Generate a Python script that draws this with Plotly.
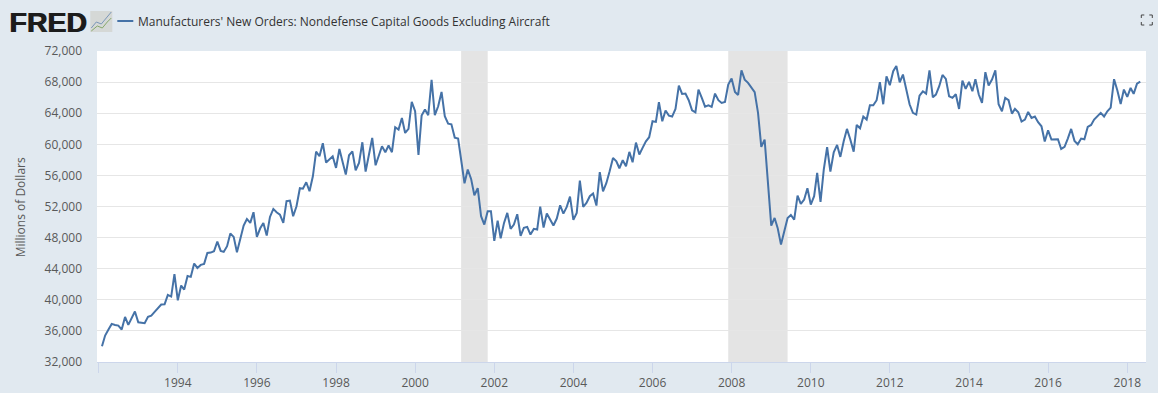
import plotly.graph_objects as go
import pandas as pd

START = "1992-02-01"
SERIES_NAME = "Manufacturers' New Orders: Nondefense Capital Goods Excluding Aircraft"
Y_TITLE = "Millions of Dollars"

v1992 = [34030,35400,36170,36900,36770,36690,36170,37800,36770,37630,38490]
v1993 = [37110,37030,36990,37800,37970,38440,38960,39390,39430,40630,40420,43290]
v1994 = [39940,41830,41320,43070,42950,44660,44100,44490,44620,46030,46070,46250]
v1995 = [47490,46290,46160,46890,48520,48090,46120,47750,49550,50400,49890,51260]
v1996 = [48090,49200,49890,48260,50660,51690,51260,50960,49890,52680,52760,50750]
v1997 = [52030,54350,54300,55120,53960,55890,59060,58460,60140,57650,58040,58460]
v1998 = [56960,59400,57820,56100,58590,59100,56660,57600,60260,56490,58680,60820]
v1999 = [57300,58680,59750,58980,59840,58980,62190,61890,63390,61460,61980,65450]
v2000 = [64250,58640,63690,64470,63740,68280,63740,64890,66740,63610,62660,62580]
v2001 = [60860,60740,58040,54990,56750,55550,53450,54350,50750,49680,51390,51390]
v2002 = [47570,50190,47920,49890,51180,49120,49680,51000,48220,49250,49380,48390]
v2003 = [49120,49030,51990,49290,51090,50320,49550,50450,52160,51090,51950,53280]
v2004 = [50280,51180,55330,51950,52460,53320,53660,52120,56410,53960,55030,56530]
v2005 = [58250,57820,56920,57950,57180,59020,57690,60220,58680,59540,60390,60910]
v2006 = [62970,62880,65410,62970,64340,63690,63570,64550,67550,66480,66520,65670]
v2007 = [64380,64120,67040,65970,64850,65020,64810,66520,65670,65320,65450,67680]
v2008 = [68450,66740,66350,69520,68320,67900,67340,66700,64040,59660,60610,55030]
v2009 = [49550,50530,49250,47100,48820,50530,50920,50320,53400,52330,52890,54350]
v2010 = [52250,53320,56320,52590,56750,59620,56490,58980,59920,58380,60390,61980]
v2011 = [60610,59060,62490,62060,63570,63180,65020,65020,65670,67980,65150,68750]
v2012 = [67600,69400,70080,67980,68970,66820,65150,64040,63820,66270,66820,66520]
v2013 = [69520,66050,66400,67470,68920,68410,66180,65970,66440,64550,68200,67120]
v2014 = [68020,66820,68370,66400,65320,69270,67550,68320,69520,65150,64250,65970]
v2015 = [65670,63950,64550,64120,62920,63180,64170,63390,63570,62840,62320,60350]
v2016 = [61800,60610,60610,60650,59400,59660,60740,61980,60440,60000,60740,60650]
v2017 = [62240,62490,63180,63690,64040,63570,64250,64720,68370,66950,65190,67040]
v2018 = [66090,67250,66480,67810,68070]

values = (v1992+v1993+v1994+v1995+v1996+v1997+v1998+v1999+v2000+v2001+v2002+v2003+v2004
          +v2005+v2006+v2007+v2008+v2009+v2010+v2011+v2012+v2013+v2014+v2015+v2016+v2017+v2018)
dates = pd.date_range(START, periods=len(values), freq="MS")

recessions = [("2001-03-01", "2001-11-01"), ("2007-12-01", "2009-06-01")]
y_ticks = [32000,36000,40000,44000,48000,52000,56000,60000,64000,68000,72000]
x_ticks = ["1992-01-01"] + [f"{y}-01-01" for y in range(1994, 2019, 2)]
x_labels = [""] + [str(y) for y in range(1994, 2019, 2)]

W, H = 1158, 393
L, R, T, B = 96.7, 1145.7, 51, 362
BG = "#e1e9f0"
LINE = "#4572a7"
TXT = "#595959"

def px(x):
    return (x - L) / (R - L)

def py(y):
    return (B - y) / (B - T)

fig = go.Figure(go.Scatter(x=dates, y=values, mode="lines", name=SERIES_NAME,
                           line=dict(color=LINE, width=2), hoverinfo="x+y"))

shapes = [dict(type="rect", xref="x", yref="paper", x0=a, x1=b, y0=0, y1=1,
               fillcolor="#e4e4e4", line_width=0, layer="between") for a, b in recessions]

# legend swatch
shapes.append(dict(type="line", xref="paper", yref="paper", x0=px(117), x1=px(133), y0=py(21), y1=py(21),
                   line=dict(color=LINE, width=2)))
# logo icon
shapes.append(dict(type="rect", xref="paper", yref="paper", x0=px(90), x1=px(112), y0=py(32), y1=py(11),
                   fillcolor="#d5d8d6", line_width=0))
def poly(pts):
    return "M " + " L ".join(f"{px(a):.5f} {py(b):.5f}" for a, b in pts)
shapes.append(dict(type="path", xref="paper", yref="paper", path=poly([(91,28),(96,22),(101,24),(106,18),(111,12)]),
                   line=dict(color="#7a96b8", width=1)))
shapes.append(dict(type="path", xref="paper", yref="paper", path=poly([(91,31),(97,26),(102,28),(107,22),(111,18)]),
                   line=dict(color="#86a86b", width=1)))
# full-screen icon
for cx, cy, dx, dy in [(1141, 15, 1, 1), (1152, 15, -1, 1), (1141, 25, 1, -1), (1152, 25, -1, -1)]:
    shapes.append(dict(type="path", xref="paper", yref="paper",
                       path=poly([(cx + 3*dx, cy), (cx, cy), (cx, cy + 3*dy)]),
                       line=dict(color="#444444", width=1)))

annotations = [
    dict(text="<b>FRED</b>", xref="paper", yref="paper", x=px(7), y=py(22.5), xanchor="left", yanchor="middle",
         showarrow=False, font=dict(family="Liberation Sans", size=28.5, color="#1c1c1c",
                                    shadow="1px 0 0 #1c1c1c")),
    dict(text=SERIES_NAME, xref="paper", yref="paper", x=px(136), y=py(21.5), xanchor="left", yanchor="middle",
         showarrow=False, font=dict(family="Open Sans", size=12, color="#333333")),
    dict(text=Y_TITLE, xref="paper", yref="paper", x=px(20), y=py(207), xanchor="center", yanchor="middle",
         textangle=-90, showarrow=False, font=dict(family="Open Sans", size=12, color=TXT)),
]

fig.update_layout(
    width=W, height=H, autosize=False, showlegend=False,
    paper_bgcolor=BG, plot_bgcolor="#ffffff",
    margin=dict(l=L, r=W - R, t=T, b=H - B, pad=0),
    shapes=shapes, annotations=annotations,
    font=dict(family="Open Sans", size=12, color=TXT),
    xaxis=dict(type="date", range=["1991-12-17", "2018-06-23"], tickmode="array", automargin=False,
               tickvals=x_ticks, ticktext=x_labels, ticks="outside", ticklen=10, tickwidth=1,
               tickcolor="#ccd6eb", showgrid=False, showline=True, linecolor="#ccd6eb", linewidth=1,
               tickfont=dict(family="Open Sans", size=12, color=TXT), zeroline=False),
    yaxis=dict(range=[32000, 72000], tickmode="array", tickvals=y_ticks, tickformat=",",
               showgrid=True, gridcolor="#e6e6e6", gridwidth=1, zeroline=False, ticks="",
               ticklabelstandoff=14, automargin=False,
               tickfont=dict(family="Open Sans", size=12, color=TXT)),
)

fig.write_html("out.html", config={"displayModeBar": False},
               post_script="document.body.style.margin='0';document.body.style.background='#e1e9f0';")
